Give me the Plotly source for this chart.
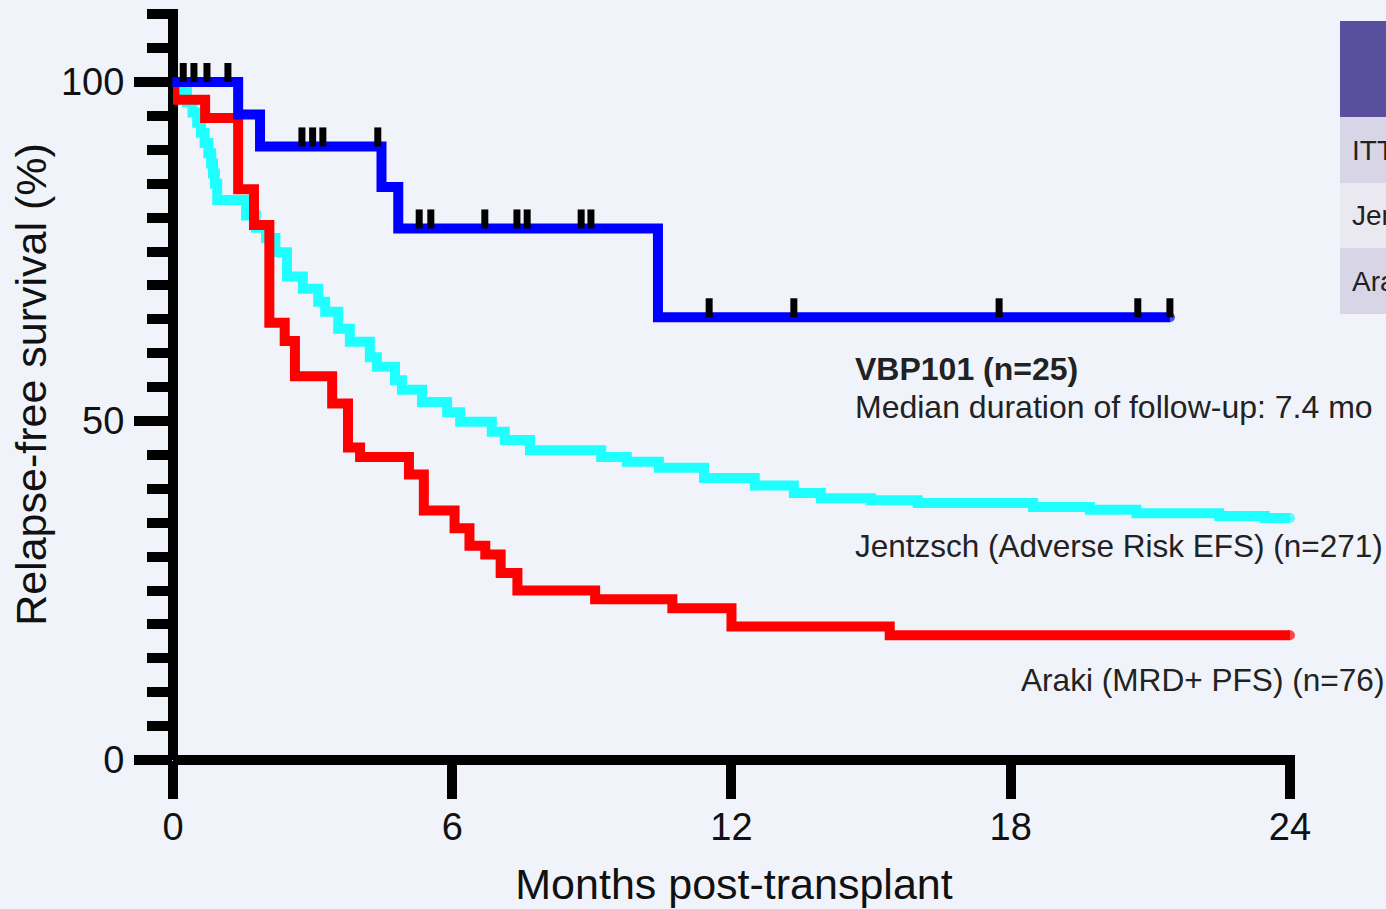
import plotly.graph_objects as go

# ---- Kaplan-Meier step data (months, % relapse-free) ----
vbp_t = [0, 1.40, 1.87, 4.48, 4.84, 10.42, 21.42]
vbp_s = [100, 95.2, 90.5, 84.5, 78.4, 65.3, 65.3]
vbp_censor_t = [0.22, 0.45, 0.73, 1.18, 2.77, 3.00, 3.22, 4.40, 5.29, 5.54,
                6.70, 7.39, 7.61, 8.77, 8.98, 11.52, 13.34, 17.75, 20.73, 21.42]

araki_t = [0, 0.03, 0.69, 1.40, 1.74, 2.07, 2.40, 2.62, 3.42, 3.76, 4.02, 5.07,
           5.39, 6.05, 6.37, 6.71, 7.04, 7.40, 9.07, 10.73, 12.0, 15.4, 24]
araki_s = [100, 97.4, 94.7, 84.2, 78.9, 64.5, 61.8, 56.6, 52.6, 46.1, 44.7, 42.1,
           36.8, 34.2, 31.6, 30.3, 27.6, 25.0, 23.7, 22.4, 19.7, 18.4, 18.4]

jentzsch_t = [0, 0.18, 0.30, 0.42, 0.52, 0.60, 0.68, 0.76, 0.82, 0.86, 0.90, 0.95,
              1.57, 1.78, 2.00, 2.20, 2.45, 2.79, 3.12, 3.27, 3.55, 3.80, 4.23, 4.38,
              4.77, 4.92, 5.35, 5.89, 6.17, 6.85, 7.13, 7.67, 9.20, 9.75, 10.44, 11.41,
              12.50, 13.34, 13.92, 15.00, 16.00, 18.48, 19.70, 20.70, 22.48, 23.46, 24]
jentzsch_s = [100, 98.5, 97.0, 95.5, 94.0, 92.5, 91.0, 89.5, 88.0, 86.5, 85.0, 82.6,
              80.3, 78.5, 77.0, 74.9, 71.3, 69.5, 67.6, 66.1, 63.6, 61.7, 59.4, 58.0,
              56.0, 54.6, 52.8, 51.3, 49.9, 48.4, 47.2, 45.7, 44.7, 44.0, 43.1, 41.6,
              40.5, 39.4, 38.6, 38.3, 37.9, 37.3, 36.9, 36.4, 36.0, 35.7, 35.7]

x_ticks = [0, 6, 12, 18, 24]
y_ticks = [0, 50, 100]

table_rows = ["ITT", "Jentzsch", "Araki"]
table_fill = ["#D8D6E6", "#EAE9F1", "#D8D6E6"]

# ---- canvas geometry ----
W, H = 1386, 909
L, R, T, B = 173, 91, 9, 149
PW, PH = W - L - R, H - T - B


def px_x(px):
    return (px - L) / PW


def px_y(py):
    return (H - B - py) / PH


def surv_at(times, surv, t):
    s = surv[0]
    for ti, si in zip(times, surv):
        if ti <= t:
            s = si
    return s


FONT = "Liberation Sans, Arial, sans-serif"
TXT = "#222222"

fig = go.Figure()


def end_sizes(n, first=False):
    sizes = [0] * n
    sizes[-1] = 10
    if first:
        sizes[0] = 10
    return sizes


fig.add_trace(go.Scatter(
    x=jentzsch_t, y=jentzsch_s, mode="lines+markers", line_shape="hv",
    line=dict(color="#20FFFF", width=10),
    marker=dict(size=end_sizes(len(jentzsch_t)), color="#20FFFF", line=dict(width=0)),
    hoverinfo="skip", showlegend=False))
fig.add_trace(go.Scatter(
    x=araki_t, y=araki_s, mode="lines+markers", line_shape="hv",
    line=dict(color="#FF0000", width=10),
    marker=dict(size=end_sizes(len(araki_t)), color="#FF0000", line=dict(width=0)),
    hoverinfo="skip", showlegend=False))
fig.add_trace(go.Scatter(
    x=vbp_t, y=vbp_s, mode="lines+markers", line_shape="hv",
    line=dict(color="#0000FF", width=10),
    marker=dict(size=end_sizes(len(vbp_t), first=True), color="#0000FF", line=dict(width=0)),
    cliponaxis=False, hoverinfo="skip", showlegend=False))

shapes = []
# censor marks sit on top of the VBP101 curve
for ct in vbp_censor_t:
    shapes.append(dict(type="line", xref="x", yref="y", x0=ct, x1=ct,
                       ysizemode="pixel", yanchor=surv_at(vbp_t, vbp_s, ct),
                       y0=0, y1=19, line=dict(color="black", width=7)))

# summary table at the right edge
shapes.append(dict(type="rect", xref="paper", yref="paper",
                   x0=px_x(1340), x1=px_x(1420), y0=px_y(117), y1=px_y(21),
                   fillcolor="#594F9F", line=dict(width=0)))
row_edges = [117, 183, 248, 314]
annotations = []
for i, (name, fill) in enumerate(zip(table_rows, table_fill)):
    top, bot = row_edges[i], row_edges[i + 1]
    shapes.append(dict(type="rect", xref="paper", yref="paper",
                       x0=px_x(1340), x1=px_x(1420), y0=px_y(bot), y1=px_y(top),
                       fillcolor=fill, line=dict(width=0)))
    annotations.append(dict(xref="paper", yref="paper", x=px_x(1350),
                            y=px_y((top + bot) / 2), text=name, showarrow=False,
                            xanchor="left", yanchor="middle",
                            font=dict(family=FONT, size=28, color=TXT)))

annotations += [
    dict(xref="paper", yref="paper", x=px_x(853), y=px_y(369),
         text="<b>VBP101 (n=25)</b>", showarrow=False, xanchor="left", yanchor="middle",
         font=dict(family=FONT, size=32, color=TXT)),
    dict(xref="paper", yref="paper", x=px_x(853), y=px_y(407),
         text="Median duration of follow-up: 7.4 mo", showarrow=False,
         xanchor="left", yanchor="middle", font=dict(family=FONT, size=32, color=TXT)),
    dict(xref="paper", yref="paper", x=px_x(853), y=px_y(546),
         text="Jentzsch (Adverse Risk EFS) (n=271)", showarrow=False,
         xanchor="left", yanchor="middle", font=dict(family=FONT, size=31.5, color=TXT)),
    dict(xref="paper", yref="paper", x=px_x(1386), y=px_y(680),
         text="Araki (MRD+ PFS) (n=76)", showarrow=False,
         xanchor="right", yanchor="middle", font=dict(family=FONT, size=31.6, color=TXT)),
]

fig.update_layout(
    width=W, height=H,
    margin=dict(l=L, r=R, t=T, b=B, pad=0, autoexpand=False),
    paper_bgcolor="#F0F3FA", plot_bgcolor="#F0F3FA",
    font=dict(family=FONT, color="#111111"),
    shapes=shapes, annotations=annotations,
    xaxis=dict(
        range=[0, 24.108], tickvals=x_ticks, ticktext=[str(v) for v in x_ticks],
        ticks="outside", ticklen=38, tickwidth=10, tickcolor="black",
        showline=False, showgrid=False, automargin=False,
        zeroline=True, zerolinecolor="black", zerolinewidth=10,
        tickfont=dict(family=FONT, size=38, color="#111111"),
        ticklabelstandoff=-5,
        title=dict(text="Months post-transplant", standoff=22,
                   font=dict(family=FONT, size=43, color="#111111")),
        fixedrange=True,
    ),
    yaxis=dict(
        range=[0, 110.77], tickvals=y_ticks, ticktext=[str(v) for v in y_ticks],
        ticks="outside", ticklen=38, tickwidth=10, tickcolor="black",
        minor=dict(dtick=5, tick0=0, ticks="outside", ticklen=25, tickwidth=10,
                   tickcolor="black", showgrid=False),
        showline=False, showgrid=False, automargin=False,
        zeroline=True, zerolinecolor="black", zerolinewidth=10,
        tickfont=dict(family=FONT, size=38, color="#111111"),
        ticklabelstandoff=2,
        title=dict(text="Relapse-free survival (%)", standoff=0,
                   font=dict(family=FONT, size=43, color="#111111")),
        fixedrange=True,
    ),
)

fig.write_html("out.html", config={"displayModeBar": False})
